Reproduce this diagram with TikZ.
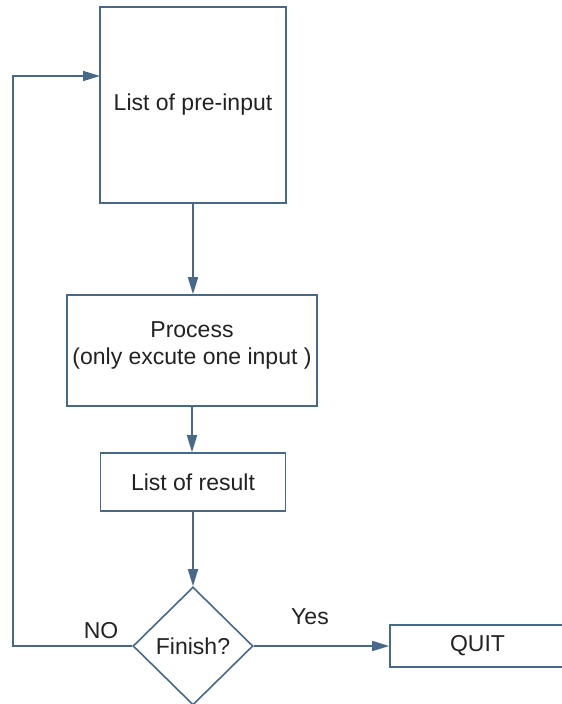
\documentclass[tikz,border=0pt]{standalone}
\usepackage{fontspec}
\setmainfont{Liberation Sans}
\usetikzlibrary{arrows.meta,shapes.geometric}
\definecolor{flowline}{HTML}{46698A}
\definecolor{flowtext}{HTML}{222222}

\begin{document}
\begin{tikzpicture}[x=1pt,y=-1pt,
  txt/.style={text=flowtext, font=\fontsize{23}{27}\selectfont},
  box/.style={draw=flowline, line width=1.6pt, inner sep=0pt, txt},
  decision/.style={diamond, draw=flowline, line width=1.6pt, inner sep=0pt, txt},
  conn/.style={draw=flowline, line width=1.6pt, -{Triangle[length=17pt,width=10pt]}}
]
\clip (0,0) rectangle (562,704);

% process boxes
\node[box, minimum width=186pt, minimum height=196pt] (pre) at (193,105) {List of pre-input};
\node[box, minimum width=250pt, minimum height=111pt, align=center, text depth=14pt] (proc) at (192,350.5)
  {Process\\(only excute one input )};
\node[box, minimum width=185pt, minimum height=58pt] (res) at (193,482) {List of result};
\node[decision, minimum width=120pt, minimum height=118pt] (dec) at (193,646) {Finish?};
\node[box, minimum width=175pt, minimum height=42pt] (quit) at (477.5,646) {QUIT};

% loop-back points
\coordinate (loopcorner) at (13,646);
\coordinate (entry) at (100,76);

% connectors
\draw[conn] (pre.south) -- (pre.south |- proc.north);
\draw[conn] (proc.south) -- (proc.south |- res.north);
\draw[conn] (res.south) -- (dec.north);
\draw[conn] (dec.east) -- (quit.west);
\draw[conn] (dec.west) -- (loopcorner) |- (entry);

% branch labels
\node[txt] (nolbl) at (101,631) {NO};
\node[txt] (yeslbl) at (310,617) {Yes};
\end{tikzpicture}
\end{document}
